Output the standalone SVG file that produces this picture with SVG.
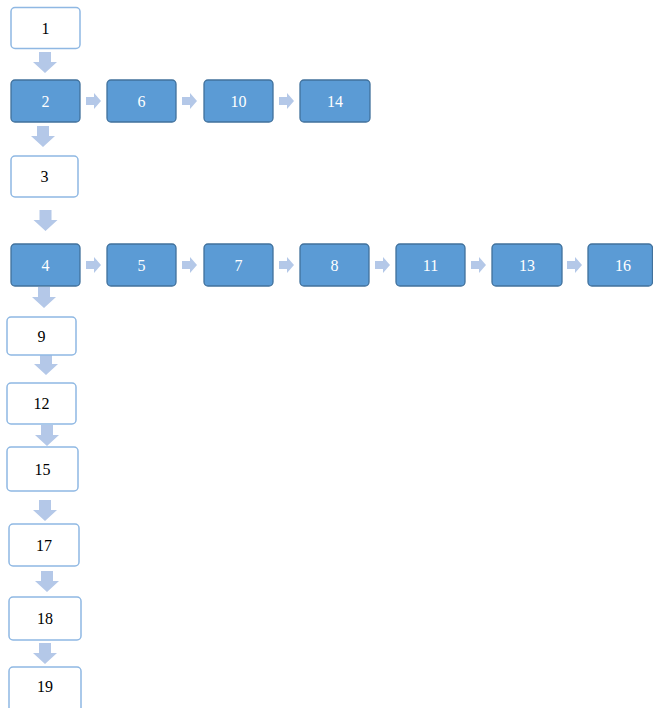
<svg xmlns="http://www.w3.org/2000/svg" xmlns:xlink="http://www.w3.org/1999/xlink" width="653" height="708" viewBox="0 0 653 708">
<style>
.w rect{fill:#ffffff;stroke:#8FB8E3;stroke-width:1.5}
.b rect{fill:#5B9BD5;stroke:#41719C;stroke-width:1.3}
text{font-family:"Liberation Serif","Times New Roman",serif;font-size:16px;text-anchor:middle;dominant-baseline:central}
.w text{fill:#000000}
.b text{fill:#ffffff}
.arr{fill:#B4C8E8}
</style>
<defs>
<path id="da" d="M-6,0 H6 V10 H12 L0,21 L-12,10 H-6 Z"/>
<path id="ra" d="M0,-4 H8 V-8 L15,0 L8,8 V4 H0 Z"/>
</defs>
<rect width="653" height="708" fill="#ffffff"/>
<g id="connectors" class="arr">
<use xlink:href="#da" x="45" y="52"/>
<use xlink:href="#da" x="43" y="126"/>
<use xlink:href="#da" x="45.5" y="210"/>
<use xlink:href="#da" x="44" y="287"/>
<use xlink:href="#da" x="46" y="354"/>
<use xlink:href="#da" x="47" y="425"/>
<use xlink:href="#da" x="45" y="500"/>
<use xlink:href="#da" x="47" y="571"/>
<use xlink:href="#da" x="45" y="643"/>
<use xlink:href="#ra" x="86" y="101"/>
<use xlink:href="#ra" x="182" y="101"/>
<use xlink:href="#ra" x="279" y="101"/>
<use xlink:href="#ra" x="86" y="265"/>
<use xlink:href="#ra" x="182" y="265"/>
<use xlink:href="#ra" x="279" y="265"/>
<use xlink:href="#ra" x="375" y="265"/>
<use xlink:href="#ra" x="471" y="265"/>
<use xlink:href="#ra" x="567" y="265"/>
</g>
<g id="n1" class="w"><rect x="11" y="7.5" width="69" height="41" rx="4"/><text x="45.5" y="28">1</text></g>
<g id="n2" class="b"><rect x="11" y="80" width="69" height="42" rx="4"/><text x="45.5" y="101">2</text></g>
<g id="n6" class="b"><rect x="107" y="80" width="69" height="42" rx="4"/><text x="141.5" y="101">6</text></g>
<g id="n10" class="b"><rect x="204" y="80" width="69" height="42" rx="4"/><text x="238.5" y="101">10</text></g>
<g id="n14" class="b"><rect x="300" y="80" width="70" height="42" rx="4"/><text x="335" y="101">14</text></g>
<g id="n3" class="w"><rect x="11" y="156" width="67" height="41" rx="4"/><text x="44.5" y="176.5">3</text></g>
<g id="n4" class="b"><rect x="11" y="244" width="69" height="42" rx="4"/><text x="45.5" y="265">4</text></g>
<g id="n5" class="b"><rect x="107" y="244" width="69" height="42" rx="4"/><text x="141.5" y="265">5</text></g>
<g id="n7" class="b"><rect x="204" y="244" width="69" height="42" rx="4"/><text x="238.5" y="265">7</text></g>
<g id="n8" class="b"><rect x="300" y="244" width="69" height="42" rx="4"/><text x="334.5" y="265">8</text></g>
<g id="n11" class="b"><rect x="396" y="244" width="69" height="42" rx="4"/><text x="430.5" y="265">11</text></g>
<g id="n13" class="b"><rect x="492" y="244" width="70" height="42" rx="4"/><text x="527" y="265">13</text></g>
<g id="n16" class="b"><rect x="588" y="244" width="64.5" height="42" rx="4"/><text x="623" y="265">16</text></g>
<g id="n9" class="w"><rect x="7" y="317" width="69" height="38" rx="4"/><text x="41.5" y="336">9</text></g>
<g id="n12" class="w"><rect x="7" y="383" width="69" height="41" rx="4"/><text x="41.5" y="403.5">12</text></g>
<g id="n15" class="w"><rect x="7" y="447" width="71" height="44" rx="4"/><text x="42.5" y="469">15</text></g>
<g id="n17" class="w"><rect x="9" y="524" width="70" height="42" rx="4"/><text x="44" y="545">17</text></g>
<g id="n18" class="w"><rect x="9" y="597" width="72" height="43" rx="4"/><text x="45" y="618.5">18</text></g>
<g id="n19" class="w"><rect x="9" y="667" width="72" height="46" rx="4"/><text x="45" y="686">19</text></g>
</svg>
